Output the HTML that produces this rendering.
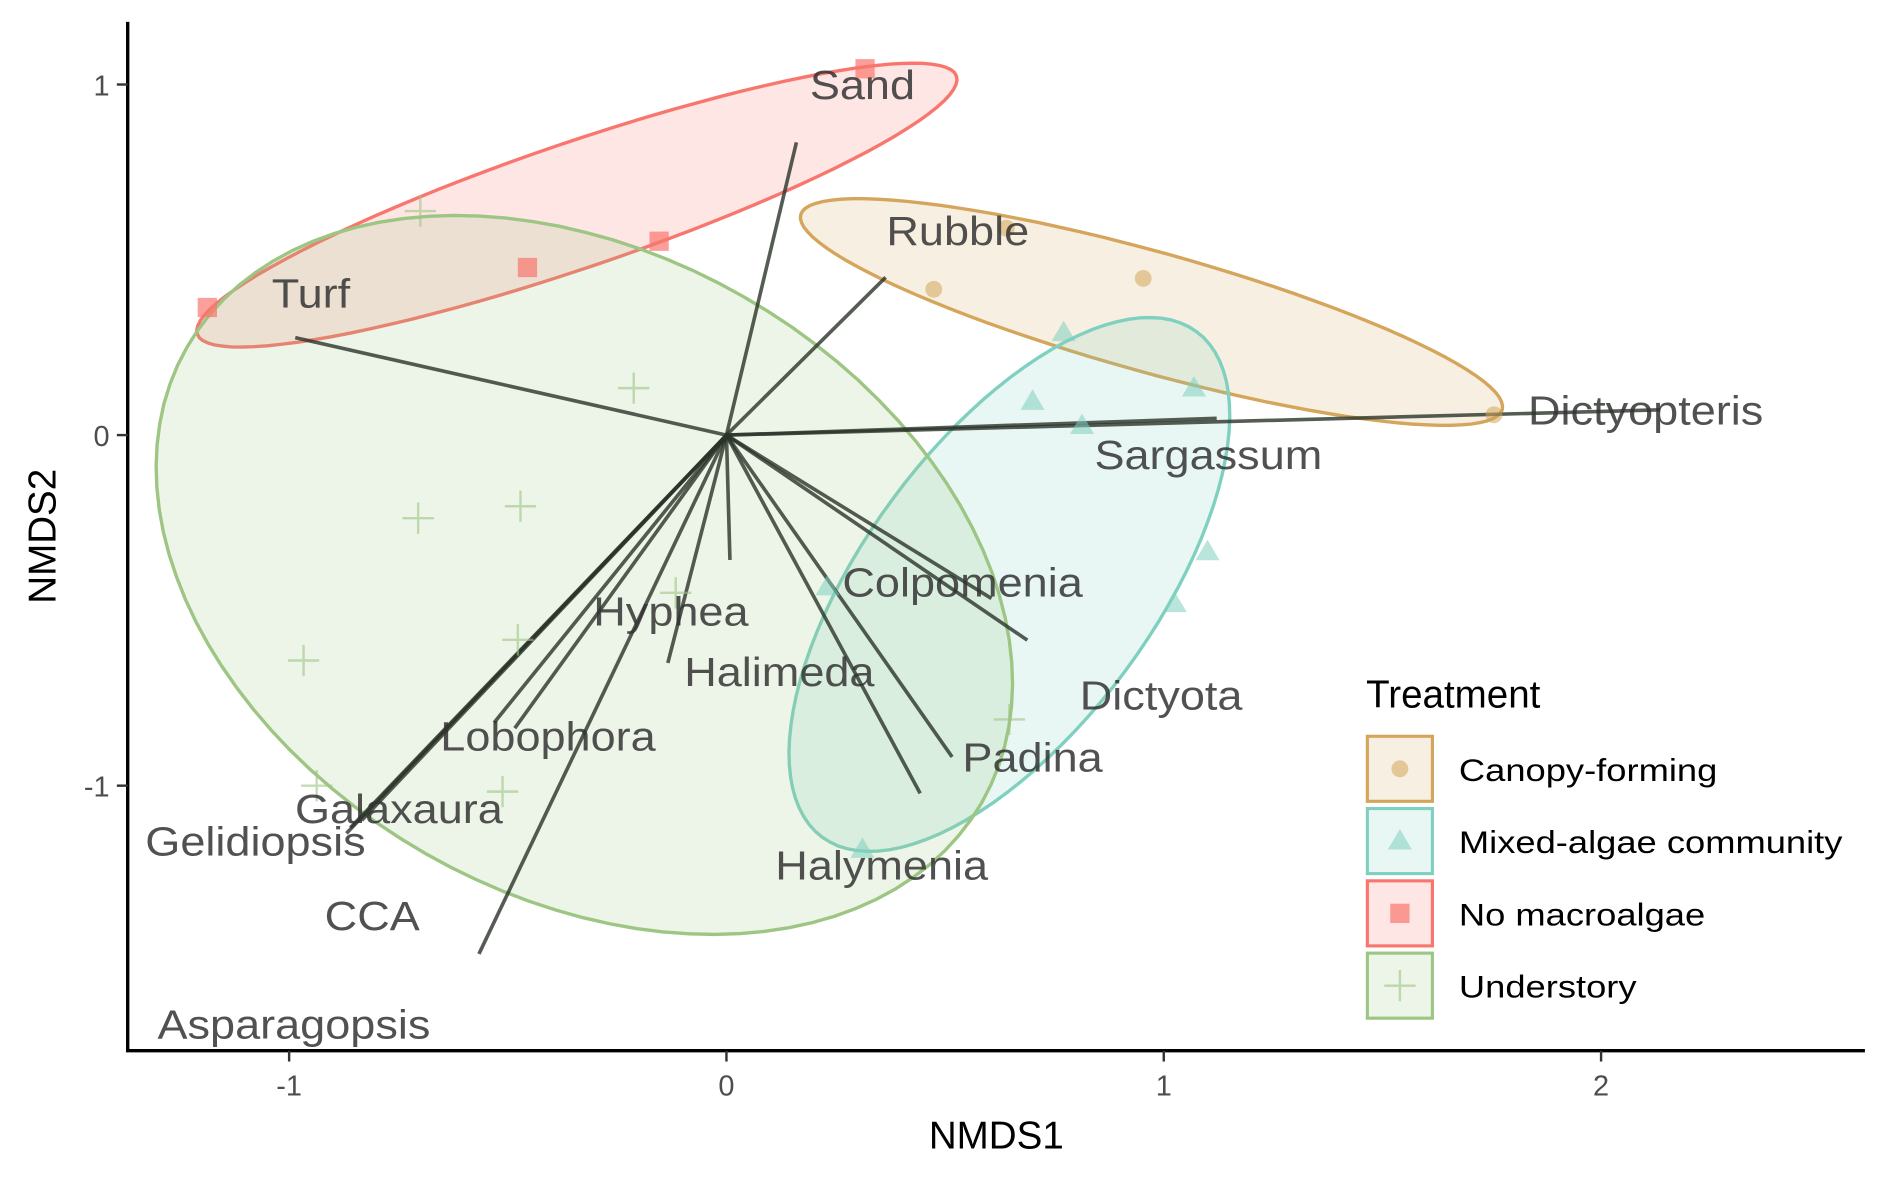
<!DOCTYPE html>
<html><head><meta charset="utf-8">
<style>
html,body{margin:0;padding:0;background:#fff;}
svg{display:block;font-family:"Liberation Sans",Arial,sans-serif;}
</style></head>
<body>
<svg id="chart" width="1889" height="1181" viewBox="0 0 1568 980" xmlns="http://www.w3.org/2000/svg">
<g id="ellipses"></g>
<g id="vectors"></g>
<g id="points"></g>
<g id="labels"></g>
<g id="axes"></g>
<g id="legend"></g>
</svg>
<script>
// ---- data ----
const groups = ["Canopy-forming","Mixed-algae community","No macroalgae","Understory"];
const canopyX = [0.474,0.953,1.755,0.64];
const canopyY = [0.416,0.447,0.058,0.59];
const mixedX = [0.771,0.70,0.813,1.069,1.10,1.025,0.231,0.311];
const mixedY = [0.292,0.096,0.027,0.134,-0.333,-0.481,-0.433,-1.182];
const noneX = [-1.187,-0.455,-0.154,0.317];
const noneY = [0.364,0.478,0.553,1.045];
const underX = [-0.70,-0.212,-0.705,-0.471,-0.967,-0.477,-0.512,-0.937,0.647,-0.116];
const underY = [0.639,0.134,-0.237,-0.203,-0.643,-0.584,-1.017,-1.0,-0.811,-0.45];
// ellipse: center, axis vector u, axis vector v (data units)
const ellCenterX = [0.972,0.647,-0.342,-0.325];
const ellCenterY = [0.351,-0.426,0.656,-0.399];
const ellUX = [0.802,0.428,0.868,0.909];
const ellUY = [-0.278,0.721,0.368,-0.649];
const ellVX = [-0.037,0.266,0.046,-0.364];
const ellVY = [-0.165,-0.245,-0.169,-0.794];
const vecX = [0.16,0.364,-0.986,2.135,1.121,0.606,0.688,0.008,-0.134,0.516,0.443,-0.484,-0.531,-0.869,-0.86,-0.834,-0.566];
const vecY = [0.835,0.45,0.278,0.072,0.048,-0.466,-0.585,-0.356,-0.65,-0.918,-1.022,-0.836,-0.82,-1.136,-1.12,-1.099,-1.48];
const speciesNames = ["Sand","Rubble","Turf","Dictyopteris","Sargassum","Colpomenia","Hyphea","Halimeda","Dictyota","Lobophora","Padina","Galaxaura","Gelidiopsis","Halymenia","CCA","Asparagopsis"];
const labelX = [0.311,0.529,-0.95,2.102,1.102,0.540,-0.127,0.121,0.994,-0.408,0.70,-0.749,-1.077,0.355,-0.810,-0.989];
const labelY = [1.0,0.584,0.405,0.072,-0.055,-0.419,-0.502,-0.674,-0.742,-0.859,-0.918,-1.065,-1.158,-1.227,-1.371,-1.68];
const xTicks = [-1,0,1,2];
const yTicks = [-1,0,1];
const xTickLabels = ["-1","0","1","2"];
const yTickLabels = ["-1","0","1"];

// ---- scales ----
const X = d => 603 + 363*d;
const Y = d => 361 - 291*d;
const NS = "http://www.w3.org/2000/svg";
const strokes = ["#D4A55A","#80D0C0","#F8766D","#9DC583"];
const fills = ["#D4A55A","#80D0C0","#F8766D","#9DC583"];
function mk(tag, attrs, parent){const e=document.createElementNS(NS,tag);for(const k in attrs)e.setAttribute(k,attrs[k]);parent.appendChild(e);return e;}

// ellipses
const gE = document.getElementById('ellipses');
for(let i=0;i<4;i++){
  let d="";
  for(let k=0;k<=100;k++){
    const t=2*Math.PI*k/100;
    const px=X(ellCenterX[i]+Math.cos(t)*ellUX[i]+Math.sin(t)*ellVX[i]);
    const py=Y(ellCenterY[i]+Math.cos(t)*ellUY[i]+Math.sin(t)*ellVY[i]);
    d+=(k?"L":"M")+px.toFixed(1)+" "+py.toFixed(1);
  }
  const e=mk('path',{d:d+"Z",fill:fills[i],'fill-opacity':0.18,stroke:strokes[i],'stroke-width':2.8},gE);
  
  
}
// vectors
const gV=document.getElementById('vectors');
for(let i=0;i<vecX.length;i++){
  const l=mk('line',{x1:X(0),y1:Y(0),x2:X(vecX[i]),y2:Y(vecY[i]),stroke:'#2b3329','stroke-opacity':0.8,'stroke-width':3},gV);
  
  
}
// points
const gP=document.getElementById('points');
function circle(x,y,c,g){return mk('circle',{cx:x,cy:y,r:7,fill:c,'fill-opacity':0.55},g);}
function tri(x,y,c,g){return mk('path',{d:`M${x} ${y-10}L${x+10} ${y+7}L${x-10} ${y+7}Z`,fill:c,'fill-opacity':0.55},g);}
function sq(x,y,c,g){return mk('rect',{x:x-8,y:y-8,width:16,height:16,fill:c,'fill-opacity':0.7},g);}
function plus(x,y,c,g){return mk('path',{d:`M${x-13} ${y}H${x+13}M${x} ${y-13}V${y+13}`,stroke:c,'stroke-opacity':0.6,'stroke-width':2,fill:'none'},g);}
for(let i=0;i<canopyX.length;i++){const p=circle(X(canopyX[i]),Y(canopyY[i]),'#D4A55A',gP);}
for(let i=0;i<mixedX.length;i++){const p=tri(X(mixedX[i]),Y(mixedY[i]),'#80D0C0',gP);}
for(let i=0;i<noneX.length;i++){const p=sq(X(noneX[i]),Y(noneY[i]),'#F8766D',gP);}
for(let i=0;i<underX.length;i++){const p=plus(X(underX[i]),Y(underY[i]),'#9DC583',gP);}
// species labels
const gL=document.getElementById('labels');
for(let i=0;i<speciesNames.length;i++){
  const t=mk('text',{x:X(labelX[i]),y:Y(labelY[i])+12,'text-anchor':'middle','font-size':34,fill:'#333','fill-opacity':0.85,transform:`translate(${X(labelX[i])} 0) scale(1.1 1) translate(${-X(labelX[i])} 0)`},gL);
  t.textContent=speciesNames[i];
  
  
}
// axes
const gA=document.getElementById('axes');
const ax=mk('path',{d:'M106 18V872H1548',stroke:'#000','stroke-width':2.8,fill:'none'},gA);

xTicks.forEach((v,i)=>{
  const tk=mk('line',{x1:X(v),x2:X(v),y1:872,y2:881,stroke:'#333','stroke-width':2},gA);
  
  const t=mk('text',{x:X(v),y:909,'text-anchor':'middle','font-size':24,fill:'#4d4d4d'},gA);
  t.textContent=xTickLabels[i];
  
});
yTicks.forEach((v,i)=>{
  const tk=mk('line',{x1:97,x2:106,y1:Y(v),y2:Y(v),stroke:'#333','stroke-width':2},gA);
  
  const t=mk('text',{x:91,y:Y(v)+9,'text-anchor':'end','font-size':24,fill:'#4d4d4d'},gA);
  t.textContent=yTickLabels[i];
  
});
const xt=mk('text',{x:827,y:953,'text-anchor':'middle','font-size':32,fill:'#000'},gA);
xt.textContent='NMDS1';
const yt=mk('text',{x:0,y:0,'text-anchor':'middle','font-size':32,fill:'#000',transform:'translate(46 445) rotate(-90)'},gA);
yt.textContent='NMDS2';
// legend
const gG=document.getElementById('legend');
const lt=mk('text',{x:1134,y:587,'font-size':32,fill:'#000'},gG);
lt.textContent='Treatment';
const keyFns=[circle,tri,sq,plus];
groups.forEach((g,i)=>{
  const y0=611+60*i;
  const r=mk('rect',{x:1135,y:y0,width:54,height:54,fill:fills[i],'fill-opacity':0.18,stroke:strokes[i],'stroke-width':2.6},gG);
  
  keyFns[i](1162,y0+27,strokes[i],gG);
  const t=mk('text',{x:1211,y:y0+37,'font-size':26,fill:'#000',transform:'translate(1211 0) scale(1.16 1) translate(-1211 0)'},gG);
  t.textContent=g;
  
});
</script>
</body></html>
